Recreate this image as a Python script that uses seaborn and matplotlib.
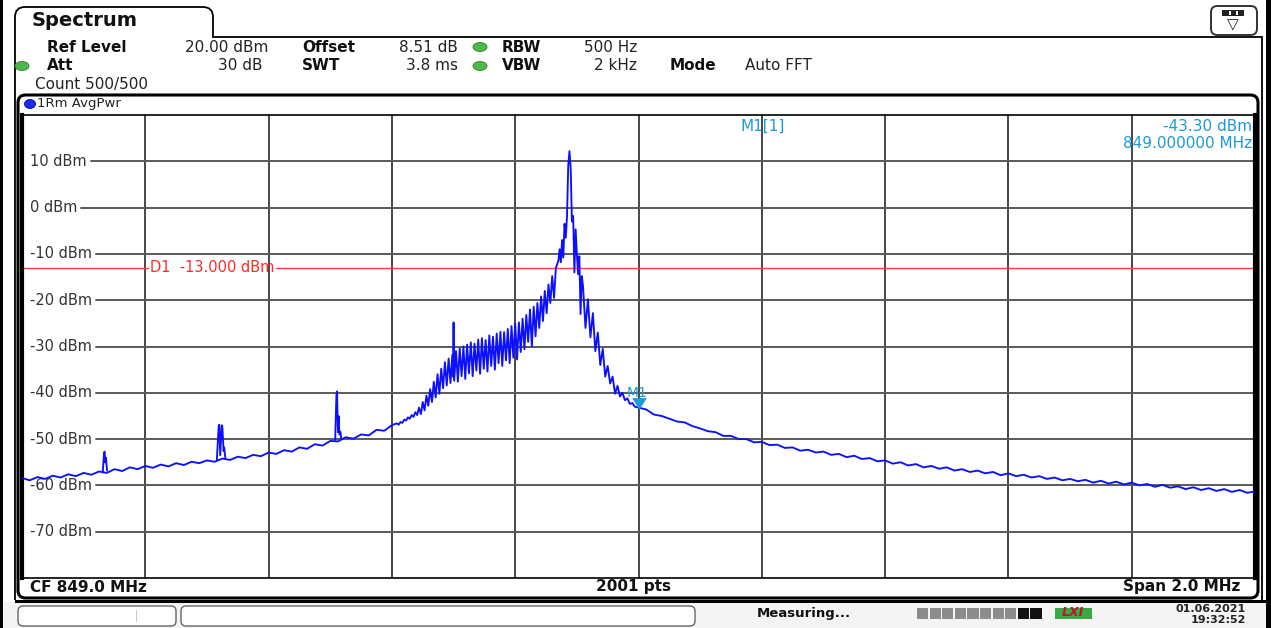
import numpy as np
import pandas as pd
import matplotlib
matplotlib.use("Agg")
import matplotlib.pyplot as plt
import seaborn as sns
from matplotlib.path import Path
from matplotlib.patches import PathPatch, FancyBboxPatch, Rectangle, Ellipse
from matplotlib.transforms import blended_transform_factory

# trace
# freq = offset from CF (849.0 MHz) in kHz, level in dBm
left_freq = np.arange(-1000, -399, 12.5)
left_level = [-58.4, -58.9, -58.2, -58.6, -57.9, -58.3, -57.6, -58.0, -57.3, -57.7,
              -57.0, -57.3, -56.5, -56.9, -56.1, -56.5, -55.8, -56.2, -55.5, -55.9,
              -55.2, -55.6, -54.9, -55.2, -54.6, -54.9, -54.2, -54.5, -53.8, -54.1,
              -53.4, -53.7, -52.9, -53.2, -52.4, -52.7, -51.8, -52.1, -51.1, -51.4,
              -50.4, -50.5, -49.6, -49.9, -49.0, -49.2, -48.0, -48.2, -47.0]

comb_freq = np.arange(-392, -131, 3)
comb_level = [-46.6, -46.9, -46.3, -46.5, -45.8, -46.0, -45.3, -45.6, -44.8, -45.2,
              -44.2, -44.8, -43.2, -44.6, -42.0, -43.8, -40.6, -42.8, -39.2, -42.0,
              -37.6, -41.0, -36.0, -40.2, -34.8, -39.0, -33.4, -38.4, -32.6, -37.9,
              -31.8, -37.4, -31.0, -37.6, -30.4, -36.4, -30.0, -37.0, -29.6, -35.8,
              -29.1, -36.4, -29.4, -35.2, -28.5, -35.9, -28.2, -34.8, -28.6, -35.4,
              -27.6, -34.2, -27.9, -35.0, -27.2, -33.6, -26.8, -34.2, -26.9, -33.0,
              -26.2, -33.6, -25.6, -32.4, -25.0, -32.8, -24.8, -31.2, -24.0, -30.6,
              -23.2, -29.0, -22.0, -30.0, -21.4, -27.8, -20.6, -26.0, -19.2, -24.5,
              -18.0, -22.8, -16.6, -20.6, -14.8, -19.5, -13.0]

peak_freq = np.arange(-130, -91, 2)
peak_level = [-11.5, -9.0, -11.8, -7.0, -10.8, -3.5, -6.5, -2.0, 9.0, 12.2,
              8.5, -3.0, -1.8, -14.0, -4.7, -10.0, -14.4, -10.5, -23.0, -14.8]

decay_freq = np.arange(-90, -5, 4)
decay_level = [-17.0, -26.0, -19.8, -28.0, -22.8, -31.0, -27.0, -34.0, -30.5, -36.5,
               -34.2, -38.0, -36.5, -40.2, -38.5, -40.8, -40.0, -41.6, -41.2, -42.4,
               -42.2, -43.0]

tail_freq = np.arange(0, 1000.1, 12.5)
tail_level = [-43.2, -43.6, -44.7, -45.0, -45.6, -46.2, -46.4, -47.2, -47.7, -48.3,
              -48.5, -49.3, -49.3, -50.0, -50.0, -50.7, -50.6, -51.3, -51.2, -51.9,
              -51.8, -52.5, -52.3, -52.9, -52.7, -53.4, -53.2, -53.9, -53.6, -54.3,
              -54.1, -54.8, -54.6, -55.3, -55.0, -55.7, -55.4, -56.1, -55.8, -56.4,
              -56.1, -56.8, -56.5, -57.1, -56.8, -57.4, -57.1, -57.8, -57.4, -58.0,
              -57.7, -58.3, -58.0, -58.6, -58.3, -58.9, -58.6, -59.1, -58.8, -59.4,
              -59.0, -59.6, -59.2, -59.8, -59.4, -60.0, -59.7, -60.3, -59.9, -60.5,
              -60.2, -60.8, -60.4, -61.0, -60.6, -61.2, -60.8, -61.4, -61.0, -61.6,
              -61.3]

# narrow spurs sitting on the skirt
spur_freq = {
    'spur1': [-869, -867, -866, -865, -864, -862],
    'spur2': [-684, -681, -680, -678.5, -676, -675, -673, -672, -670],
    'spur3': [-492, -490, -489, -487.5, -486.5, -485, -483.5, -482.5, -480],
    'spur4': [-301, -300, -299],
}
spur_level = {
    'spur1': [-57.2, -53.0, -52.7, -55.0, -54.0, -56.8],
    'spur2': [-54.6, -47.2, -46.9, -53.5, -47.0, -47.4, -52.6, -51.8, -54.3],
    'spur3': [-50.2, -40.5, -39.7, -48.5, -45.0, -49.0, -48.4, -49.8, -50.0],
    'spur4': [-36.5, -24.8, -36.0],
}

y_ticks = [10, 0, -10, -20, -30, -40, -50, -60, -70]
y_labels = ['10 dBm', '0 dBm', '-10 dBm', '-20 dBm', '-30 dBm', '-40 dBm',
            '-50 dBm', '-60 dBm', '-70 dBm']
x_grid = [-800, -600, -400, -200, 0, 200, 400, 600, 800]

m1_freq = 0.0
m1_level = -43.30
d1_level = -13.0

trace_col = '#0c10ff'
marker_col = '#1c9ad8'
hgrid_col = '#5a5a5a'

# ---- build data table ----
parts = [pd.DataFrame({
    'freq': np.concatenate([left_freq, comb_freq, peak_freq, decay_freq, tail_freq]),
    'level': np.concatenate([left_level, comb_level, peak_level, decay_level, tail_level]),
    'unit': 'trace'})]
for name in spur_freq:
    parts.append(pd.DataFrame({'freq': spur_freq[name], 'level': spur_level[name], 'unit': name}))
trace = pd.concat(parts, ignore_index=True)

sns.set_theme(style='white')
plt.rcParams['font.family'] = ['DejaVu Sans']

W, H = 1271, 628
fig = plt.figure(figsize=(W / 100, H / 100), dpi=100)
fig.patch.set_facecolor('white')


def fx(x):
    return x / W


def fy(y):
    return 1 - y / H


def ftext(x, y, s, **kw):
    kw.setdefault('va', 'center')
    return fig.text(fx(x), fy(y), s, **kw)


def rbox(x0, y0, x1, y1, r=0.006, **kw):
    p = FancyBboxPatch((fx(x0), fy(y1)), (x1 - x0) / W, (y1 - y0) / H,
                       boxstyle=f'round,pad=0,rounding_size={r}', mutation_aspect=W / H,
                       transform=fig.transFigure, **kw)
    fig.add_artist(p)
    return p


# ---- plot area ----
ax = fig.add_axes([fx(22), fy(578), (1255 - 22) / W, (578 - 115) / H])
sns.lineplot(data=trace, x='freq', y='level', units='unit', estimator=None, sort=False,
             color=trace_col, linewidth=1.35, ax=ax, legend=False, zorder=3)
ax.set_xlim(-1000, 1000)
ax.set_ylim(-80, 20)
ax.set_xticks(x_grid)
ax.set_yticks(y_ticks)
ax.tick_params(length=0, labelbottom=False, labelleft=False)
ax.set_xlabel('')
ax.set_ylabel('')
ax.set_axisbelow(True)
ax.xaxis.grid(True, color='#151515', lw=1.1)
ax.yaxis.grid(False)
for s in ['left', 'right']:
    ax.spines[s].set_linewidth(3)
    ax.spines[s].set_color('black')
for s in ['top', 'bottom']:
    ax.spines[s].set_linewidth(1.2)
    ax.spines[s].set_color('black')

tr = blended_transform_factory(ax.transAxes, ax.transData)
label_texts = []
for v, lab in zip(y_ticks, y_labels):
    label_texts.append(ax.text(0.0065, v, lab, transform=tr, va='center', ha='left',
                               fontsize=10.5, color='#333333', zorder=2.5))

d1_text = ax.text((150 - 22) / 1233, d1_level, 'D1  -13.000 dBm', transform=tr,
                  va='center', ha='left', fontsize=10.5, color='#ff2a2a', zorder=2.6)

# horizontal grid lines start right after their labels, like on the instrument
renderer = fig.canvas.get_renderer()
ax_bb = ax.get_window_extent(renderer)
for v, t in zip(y_ticks, label_texts):
    bb = t.get_window_extent(renderer)
    ax.axhline(v, xmin=(bb.x1 + 4 - ax_bb.x0) / ax_bb.width, xmax=1,
               color=hgrid_col, lw=1.4, zorder=1)
bb = d1_text.get_window_extent(renderer)
ax.axhline(d1_level, xmin=0, xmax=(bb.x0 - 2 - ax_bb.x0) / ax_bb.width,
           color='#ff3b3b', lw=1.0, zorder=2.4)
ax.axhline(d1_level, xmin=(bb.x1 + 2 - ax_bb.x0) / ax_bb.width, xmax=1,
           color='#ff3b3b', lw=1.0, zorder=2.4)

# marker M1
ax.plot([m1_freq], [m1_level], ls='none', marker=[(-1, 1.6), (0, 0), (1, 1.6)],
        ms=15, color=marker_col, zorder=4)
ax.annotate('M1', xy=(m1_freq, m1_level), xytext=(-1, 6), textcoords='offset points',
            ha='center', va='bottom', fontsize=10, color=marker_col, zorder=4)

ftext(740, 126, 'M1[1]', fontsize=11, color=marker_col)
ftext(1252, 126, '-43.30 dBm', fontsize=11, color=marker_col, ha='right')
ftext(1252, 144, '849.000000 MHz', fontsize=11, color=marker_col, ha='right')

# ---- frame, tab and panels ----
fig.add_artist(Rectangle((0, 0), fx(3), 1, transform=fig.transFigure, fc='black', ec='none'))
fig.add_artist(Rectangle((fx(1266), 0), fx(5), 1, transform=fig.transFigure, fc='black', ec='none'))

tab_px = [(15, 600), (15, 17), (15, 7), (25, 7), (203, 7), (213, 7), (213, 17),
          (213, 37), (1262, 37), (1262, 600)]
codes = [Path.MOVETO, Path.LINETO, Path.CURVE3, Path.CURVE3, Path.LINETO,
         Path.CURVE3, Path.CURVE3, Path.LINETO, Path.LINETO, Path.LINETO]
tab = Path([(fx(x), fy(y)) for x, y in tab_px], codes)
fig.add_artist(PathPatch(tab, transform=fig.transFigure, fc='none', ec='black', lw=1.3))
ftext(32, 21, 'Spectrum', fontsize=14, fontweight='bold', color='#111111')

# settings icon top right
rbox(1211, 6, 1257, 35, r=0.005, fc='white', ec='#333333', lw=1.4)
fig.add_artist(Rectangle((fx(1222), fy(16)), 22 / W, 6 / H, transform=fig.transFigure,
                         fc='#222222', ec='none'))
for xs in [1229, 1236]:
    fig.add_artist(Rectangle((fx(xs), fy(15)), 1.5 / W, 4 / H, transform=fig.transFigure,
                             fc='white', ec='none'))
ftext(1233, 25, '\u25bd', fontsize=11, ha='center', color='#222222')

# header rows
bold = dict(fontsize=11, fontweight='bold', color='#111111')
norm = dict(fontsize=11, color='#222222')
ftext(47, 47, 'Ref Level', **bold)
ftext(268, 47, '20.00 dBm', ha='right', **norm)
ftext(302, 47, 'Offset', **bold)
ftext(458, 47, '8.51 dB', ha='right', **norm)
ftext(502, 47, 'RBW', **bold)
ftext(637, 47, '500 Hz', ha='right', **norm)
ftext(47, 66, 'Att', **bold)
ftext(262, 66, '30 dB', ha='right', **norm)
ftext(302, 66, 'SWT', **bold)
ftext(458, 66, '3.8 ms', ha='right', **norm)
ftext(502, 66, 'VBW', **bold)
ftext(637, 66, '2 kHz', ha='right', **norm)
ftext(670, 66, 'Mode', **bold)
ftext(745, 66, 'Auto FFT', **norm)
ftext(35, 85, 'Count 500/500', **norm)

for x, y in [(22, 66), (480, 47), (480, 66)]:
    fig.add_artist(Ellipse((fx(x), fy(y)), 14 / W, 9 / H, transform=fig.transFigure,
                           fc='#4cb84c', ec='#2f7f2f', lw=0.6))

# trace window
rbox(18, 95, 1258, 598, r=0.006, fc='none', ec='black', lw=2.2, zorder=5)
fig.add_artist(Ellipse((fx(30), fy(104)), 11 / W, 9 / H, transform=fig.transFigure,
                       fc='#1a26ff', ec='#0a0a80', lw=0.6))
ftext(37, 104, '1Rm AvgPwr', fontsize=9.5, color='#222222')

ftext(30, 587, 'CF 849.0 MHz', **bold)
ftext(634, 587, '2001 pts', ha='center', **bold)
ftext(1240, 587, 'Span 2.0 MHz', ha='right', **bold)

# ---- status bar ----
fig.add_artist(Rectangle((fx(3), fy(628)), (1263) / W, 26 / H, transform=fig.transFigure,
                         fc='#f4f4f4', ec='none', zorder=0))
fig.add_artist(Rectangle((fx(15), fy(603)), (1251) / W, 3 / H, transform=fig.transFigure,
                         fc='black', ec='none'))
rbox(18, 606, 176, 626, r=0.004, fc='white', ec='#666666', lw=1.0)
rbox(181, 606, 695, 626, r=0.004, fc='white', ec='#666666', lw=1.0)
fig.add_artist(Rectangle((fx(136), fy(622)), 1 / W, 12 / H, transform=fig.transFigure,
                         fc='#cccccc', ec='none'))
ftext(757, 614, 'Measuring...', fontsize=9.5, fontweight='bold', color='#111111')
for i in range(10):
    col = '#8c8c8c' if i < 8 else '#111111'
    fig.add_artist(Rectangle((fx(917 + i * 12.6), fy(619)), 11.2 / W, 11 / H,
                             transform=fig.transFigure, fc=col, ec='none'))
fig.add_artist(Rectangle((fx(1055), fy(619)), 37 / W, 11 / H, transform=fig.transFigure,
                         fc='#39a845', ec='none'))
ftext(1073, 613, 'LXI', fontsize=9, fontweight='bold', fontstyle='italic',
      color='#c8102e', ha='center')
ftext(1246, 609, '01.06.2021', fontsize=8, fontweight='bold', color='#222222', ha='right')
ftext(1246, 620, '19:32:52', fontsize=8, fontweight='bold', color='#222222', ha='right')

fig.savefig('out.png', dpi=100, facecolor='white')
